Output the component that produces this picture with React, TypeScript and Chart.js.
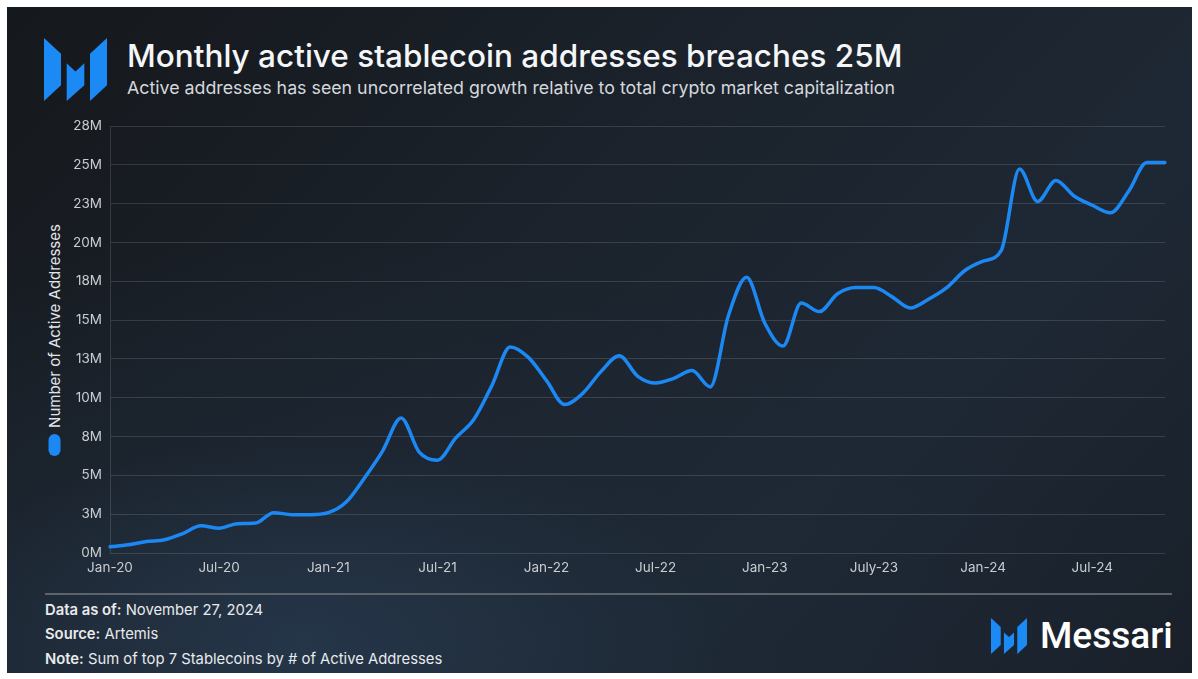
import React, { useEffect, useRef } from "react";
import { Chart, registerables } from "chart.js";

Chart.register(...registerables);

// Monthly categories Jan-20 .. Nov-24
const months = [
  "Jan-20", "Feb-20", "Mar-20", "Apr-20", "May-20", "Jun-20", "Jul-20", "Aug-20", "Sep-20", "Oct-20", "Nov-20", "Dec-20",
  "Jan-21", "Feb-21", "Mar-21", "Apr-21", "May-21", "Jun-21", "Jul-21", "Aug-21", "Sep-21", "Oct-21", "Nov-21", "Dec-21",
  "Jan-22", "Feb-22", "Mar-22", "Apr-22", "May-22", "Jun-22", "Jul-22", "Aug-22", "Sep-22", "Oct-22", "Nov-22", "Dec-22",
  "Jan-23", "Feb-23", "Mar-23", "Apr-23", "May-23", "Jun-23", "Jul-23", "Aug-23", "Sep-23", "Oct-23", "Nov-23", "Dec-23",
  "Jan-24", "Feb-24", "Mar-24", "Apr-24", "May-24", "Jun-24", "Jul-24", "Aug-24", "Sep-24", "Oct-24", "Nov-24",
];

// Monthly active stablecoin addresses, in millions
const activeAddressesM = [
  0.40, 0.53, 0.74, 0.85, 1.25, 1.75, 1.59, 1.89, 1.93, 2.60, 2.47, 2.47,
  2.60, 3.30, 4.85, 6.60, 8.70, 6.50, 5.98, 7.40, 8.60, 10.8, 13.27, 12.6,
  11.1, 9.56, 10.3, 11.7, 12.7, 11.4, 10.95, 11.25, 11.75, 10.7, 15.3, 17.76,
  14.8, 13.33, 16.1, 15.55, 16.7, 17.1, 17.1, 16.5, 15.78, 16.35, 17.1, 18.2,
  18.8, 19.5, 24.73, 22.65, 24.0, 23.0, 22.4, 21.92, 23.3, 25.15, 25.16,
];

// Tick labels shown every 6 months
const xTickLabels = ["Jan-20", "Jul-20", "Jan-21", "Jul-21", "Jan-22", "Jul-22", "Jan-23", "July-23", "Jan-24", "Jul-24"];

const TITLE = "Monthly active stablecoin addresses breaches 25M";
const SUBTITLE = "Active addresses has seen uncorrelated growth relative to total crypto market capitalization";
const AXIS_TITLE = "Number of Active Addresses";

const BLUE = "#1c88f4";
const GRID = "rgba(255,255,255,0.13)";
const TICK = "#c9cdd2";
const SANS = "Inter, 'Liberation Sans', Arial, Helvetica, sans-serif";

function MessariIcon({ size }: { size: number }) {
  return (
    <svg width={size} height={size} viewBox="0 0 100 100" style={{ display: "block" }}>
      <polygon points="0,0 27,25 27,75 0,100" fill="#1b8af5" />
      <polygon points="36,40 50,53 64,40 64,75 36,100" fill="#1b8af5" />
      <polygon points="73,25 100,0 100,75 73,100" fill="#1b8af5" />
    </svg>
  );
}

export default function App() {
  const canvasRef = useRef<HTMLCanvasElement | null>(null);

  useEffect(() => {
    if (!canvasRef.current) return;
    const chart = new Chart(canvasRef.current, {
      type: "line",
      data: {
        labels: months,
        datasets: [
          {
            label: AXIS_TITLE,
            data: activeAddressesM,
            borderColor: BLUE,
            borderWidth: 3.5,
            pointRadius: 0,
            fill: false,
            cubicInterpolationMode: "monotone",
            borderCapStyle: "round",
            borderJoinStyle: "round",
          },
        ],
      },
      options: {
        responsive: false,
        animation: false,
        devicePixelRatio: 1,
        layout: { padding: { top: 14, right: 15, left: 0, bottom: 0 } },
        plugins: { legend: { display: false }, tooltip: { enabled: false } },
        scales: {
          x: {
            grid: { display: false, drawTicks: false },
            border: { display: false },
            ticks: {
              autoSkip: false,
              maxRotation: 0,
              minRotation: 0,
              padding: 7,
              color: TICK,
              font: { family: SANS, size: 13.5 },
              callback: (_v: any, i: number) => (i % 6 === 0 && xTickLabels[i / 6] ? xTickLabels[i / 6] : ""),
            },
            afterFit: (s: any) => {
              s.height = 27;
            },
          },
          y: {
            min: 0,
            max: 27.5,
            grid: { color: GRID, drawTicks: false, lineWidth: 1 },
            border: { display: true, color: GRID },
            ticks: {
              stepSize: 2.5,
              padding: 8,
              color: TICK,
              font: { family: SANS, size: 13.5 },
              callback: (v: any) => Math.round(Number(v)) + "M",
            },
            afterFit: (s: any) => {
              s.width = 50;
            },
          },
        },
      },
    });
    return () => chart.destroy();
  }, []);

  return (
    <div style={{ position: "absolute", left: 0, top: 0, width: 1198, height: 679, background: "#ffffff", overflow: "hidden" }}>
      <div
        style={{
          position: "absolute",
          left: 7,
          top: 7,
          width: 1185,
          height: 666,
          background:
            "radial-gradient(ellipse 70% 60% at 25% 95%, rgba(38,56,76,0.9) 0%, rgba(30,42,56,0.4) 50%, rgba(0,0,0,0) 100%), linear-gradient(135deg, #15181c 0%, #1b222b 40%, #1e2834 70%, #19202a 100%)",
          fontFamily: SANS,
        }}
      >
        {/* logo */}
        <div style={{ position: "absolute", left: 37, top: 31 }}>
          <MessariIcon size={63} />
        </div>
        {/* title */}
        <div
          style={{
            position: "absolute",
            left: 120,
            top: 30.5,
            fontWeight: 500,
            fontSize: 31.5,
            lineHeight: "36px",
            color: "#f4f6f8",
            whiteSpace: "nowrap",
          }}
        >
          {TITLE}
        </div>
        <div
          style={{
            position: "absolute",
            left: 120,
            top: 70.3,
            fontSize: 17.8,
            lineHeight: "22px",
            color: "#d4d8dc",
            whiteSpace: "nowrap",
          }}
        >
          {SUBTITLE}
        </div>

        {/* rotated legend / axis title */}
        <div
          style={{
            position: "absolute",
            left: 47,
            top: 333,
            transform: "translate(-50%, -50%) rotate(-90deg)",
            display: "flex",
            alignItems: "center",
            whiteSpace: "nowrap",
            color: "#e2e5e8",
            fontSize: 15,
          }}
        >
          <span style={{ display: "inline-block", width: 22, height: 12, borderRadius: 6, background: BLUE, marginRight: 6 }} />
          <span>{AXIS_TITLE}</span>
        </div>

        {/* chart */}
        <canvas
          ref={canvasRef}
          width={1120}
          height={470}
          style={{ position: "absolute", left: 53, top: 103, width: 1120, height: 470 }}
        />

        {/* footer separator */}
        <div style={{ position: "absolute", left: 38, top: 586, width: 1127, height: 2, background: "#5d636b" }} />

        {/* footer notes */}
        <div style={{ position: "absolute", left: 38, top: 590.5, fontSize: 14.8, lineHeight: "24.5px", color: "#e8eaec" }}>
          <div>
            <b style={{ fontWeight: 600 }}>Data as of:</b> November 27, 2024
          </div>
          <div>
            <b style={{ fontWeight: 600 }}>Source:</b> Artemis
          </div>
          <div>
            <b style={{ fontWeight: 600 }}>Note:</b> Sum of top 7 Stablecoins by # of Active Addresses
          </div>
        </div>

        {/* brand */}
        <div style={{ position: "absolute", left: 984, top: 611, display: "flex", alignItems: "center" }}>
          <MessariIcon size={36} />
          <span
            style={{
              marginLeft: 13,
              fontFamily: "Roboto, 'Liberation Sans', Arial, sans-serif",
              fontWeight: 500,
              fontSize: 37,
              lineHeight: "36px",
              color: "#ffffff",
            }}
          >
            Messari
          </span>
        </div>
      </div>
    </div>
  );
}
